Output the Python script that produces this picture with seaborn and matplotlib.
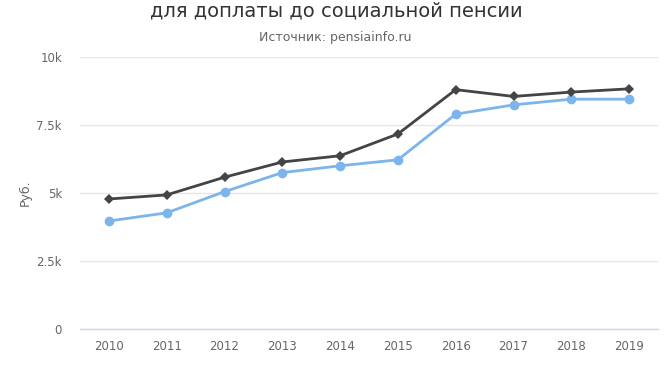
import matplotlib
matplotlib.use("Agg")
import matplotlib.pyplot as plt
import seaborn as sns
import pandas as pd

years = [2010, 2011, 2012, 2013, 2014, 2015, 2016, 2017, 2018, 2019]
series_blue = [3970, 4270, 5050, 5750, 6000, 6220, 7900, 8240, 8450, 8450]
series_dark = [4780, 4930, 5580, 6140, 6370, 7170, 8800, 8550, 8710, 8830]
y_ticks = [0, 2500, 5000, 7500, 10000]
y_tick_labels = ["0", "2.5k", "5k", "7.5k", "10k"]
title = "для доплаты до социальной пенсии"
subtitle = "Источник: pensiainfo.ru"
y_label = "Руб."

sns.set_theme(style="white")
plt.rcParams["font.family"] = ["DejaVu Sans"]

fig = plt.figure(figsize=(6.71, 3.77), dpi=100)
ax = fig.add_axes([80 / 671, 1 - 329 / 377, 578 / 671, (329 - 57) / 377])

df_blue = pd.DataFrame({"year": years, "value": series_blue})
df_dark = pd.DataFrame({"year": years, "value": series_dark})

sns.lineplot(data=df_blue, x="year", y="value", ax=ax, color="#7cb5ec",
             linewidth=2, marker="o", markersize=7, markeredgewidth=0, zorder=3)
sns.lineplot(data=df_dark, x="year", y="value", ax=ax, color="#434348",
             linewidth=2, marker="D", markersize=5.5, markeredgewidth=0, zorder=4)

ax.set_xlim(years[0] - 0.5, years[-1] + 0.5)
ax.set_ylim(0, 10000)
ax.set_xticks(years)
ax.set_xticklabels([str(y) for y in years], color="#666666", fontsize=8.5)
ax.set_yticks(y_ticks)
ax.set_yticklabels(y_tick_labels, color="#666666", fontsize=8.5)
ax.tick_params(axis="x", length=0, pad=8)
ax.tick_params(axis="y", length=0, pad=13)
ax.yaxis.grid(True, color="#e6e6e6", linewidth=1)
ax.xaxis.grid(False)
for side in ["top", "right", "left"]:
    ax.spines[side].set_visible(False)
ax.spines["bottom"].set_color("#ccd6eb")
ax.spines["bottom"].set_linewidth(1)
ax.set_xlabel("")
ax.set_ylabel(y_label, color="#666666", fontsize=9)
ax.yaxis.set_label_coords((32 - 80) / 578, 0.5)

fig.text(336 / 671, 1 - 11 / 377, title, ha="center", va="center",
         fontsize=14, color="#333333")
fig.text(335 / 671, 1 - 37 / 377, subtitle, ha="center", va="center",
         fontsize=9, color="#666666")

fig.savefig("out.png", dpi=100)
